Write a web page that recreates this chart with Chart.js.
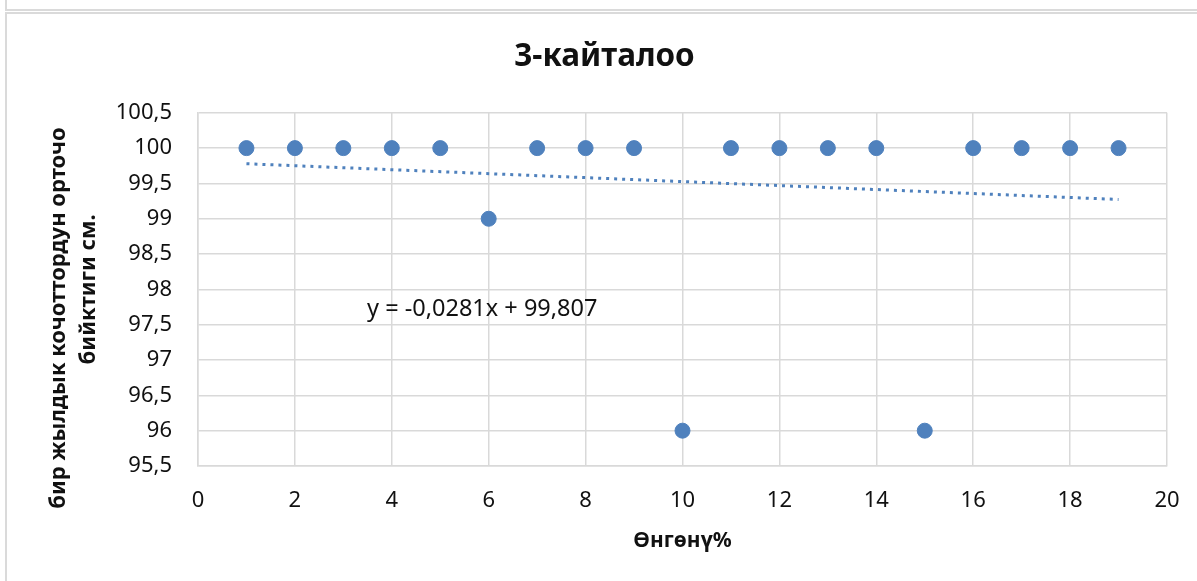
<!DOCTYPE html>
<html>
<head>
<meta charset="utf-8">
<script src="https://cdn.jsdelivr.net/npm/chart.js@4"></script>
<style>
  html, body { margin: 0; padding: 0; background: #fff; overflow: hidden; }
  .prev { position: absolute; left: 5px; top: -20px; width: 1300px; height: 27px; border: 2px solid #dadada; }
  .frame { position: absolute; left: 5px; top: 12px; width: 1300px; height: 700px; border: 2px solid #dadada; }
  #wrap { position: absolute; left: 0; top: 0; width: 1197px; height: 581px; }
</style>
</head>
<body>
<div class="prev"></div>
<div class="frame"></div>
<div id="wrap"><canvas id="chart" width="1197" height="581"></canvas></div>
<script>
const growth = [1, 2, 3, 4, 5, 6, 7, 8, 9, 10, 11, 12, 13, 14, 15, 16, 17, 18, 19]
const height = [100, 100, 100, 100, 100, 99, 100, 100, 100, 96, 100, 100, 100, 100, 96, 100, 100, 100, 100]
// linear trendline y = -0,0281x + 99,807 at its two ends
const trendX = [1, 19]
const trendY = [99.779, 99.273]
const equation = 'y = -0,0281x + 99,807'

const blue = '#4F81BD'
const gridColor = '#d9d9d9'
const fam = '"Noto Sans", "Open Sans", sans-serif'

const equationLabel = {
  id: 'equationLabel',
  afterDatasetsDraw(chart) {
    const { ctx, scales } = chart
    ctx.save()
    ctx.font = '23.5px ' + fam
    ctx.fillStyle = '#111'
    ctx.textAlign = 'left'
    ctx.textBaseline = 'middle'
    ctx.fillText(equation, scales.x.getPixelForValue(3.49), scales.y.getPixelForValue(97.72))
    ctx.restore()
  }
}

const ctx = document.getElementById('chart').getContext('2d')
new Chart(ctx, {
  type: 'scatter',
  data: {
    datasets: [{
      label: 'Өнгөнү',
      data: growth.map((x, i) => ({ x: x, y: height[i] })),
      backgroundColor: blue,
      borderColor: blue,
      pointRadius: 7.5,
      pointHoverRadius: 7.5,
    }, {
      label: 'trend',
      type: 'line',
      data: trendX.map((x, i) => ({ x: x, y: trendY[i] })),
      borderColor: blue,
      borderWidth: 3,
      borderDash: [3, 5],
      pointRadius: 0,
      fill: false,
    }]
  },
  options: {
    responsive: false,
    animation: false,
    layout: { padding: { left: 42, right: 30, top: 0, bottom: 0 } },
    scales: {
      x: {
        type: 'linear',
        min: 0,
        max: 20,
        afterFit: s => { s.height = 115; s.paddingRight = 0; s.paddingLeft = 0 },
        grid: { color: gridColor, lineWidth: 1.5, drawTicks: false },
        border: { color: gridColor, width: 1.5 },
        ticks: { stepSize: 2, padding: 22, color: '#111', font: { family: fam, size: 22 } },
        title: {
          display: true,
          text: 'Өнгөнү%',
          color: '#111',
          font: { family: fam, size: 21, weight: 'bold' },
          padding: { top: 0, bottom: 27 }
        }
      },
      y: {
        min: 95.5,
        max: 100.5,
        afterFit: s => { s.width = 156 },
        grid: { color: gridColor, lineWidth: 1.5, drawTicks: false },
        border: { color: gridColor, width: 1.5 },
        ticks: {
          stepSize: 0.5,
          padding: 26,
          color: '#111',
          font: { family: fam, size: 22 },
          callback: v => String(v).replace('.', ',')
        },
        title: {
          display: true,
          text: ['бир жылдык кочоттордун орточо          ', 'бийктиги см.'],
          color: '#111',
          font: { family: fam, size: 22, weight: 'bold', lineHeight: 1.4 },
          padding: { top: 1, bottom: 0 }
        }
      }
    },
    plugins: {
      legend: { display: false },
      tooltip: { enabled: false },
      title: {
        display: true,
        text: '3-кайталоо',
        color: '#111',
        font: { family: fam, size: 31.5, weight: 'bold', lineHeight: 1.2 },
        padding: { top: 38, bottom: 37 }
      }
    }
  },
  plugins: [equationLabel]
})
</script>
</body>
</html>
